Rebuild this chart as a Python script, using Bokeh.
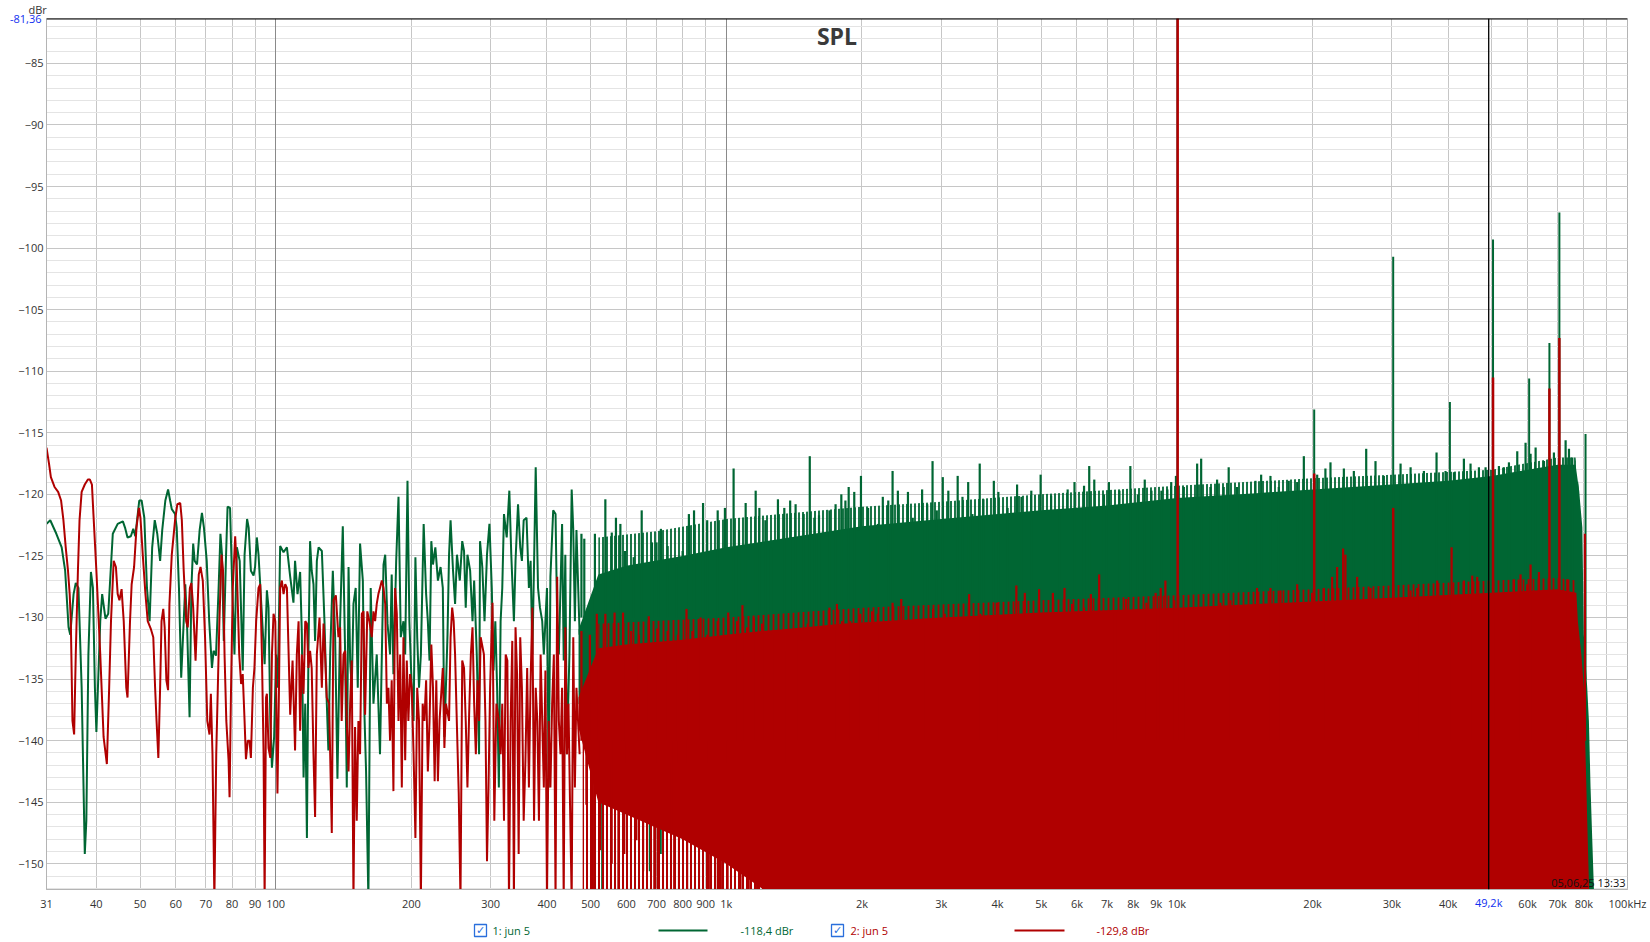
from bokeh.plotting import figure
from bokeh.models import Range1d, FixedTicker, Grid, Label, Span, Title, LinearAxis, LogAxis
from bokeh.layouts import column
from bokeh.core.properties import value
from bokeh.embed import file_html
from bokeh.resources import INLINE

# ---------------- data ----------------
# series 1 (green) - resolved trace 31 Hz .. 470 Hz
g_lo_f = [
    31.0, 31.6, 32.6, 33.5, 34.1, 34.7, 35.0, 35.6, 36.0, 36.5,
    37.1, 37.7, 38.0, 38.4, 38.9, 39.3, 39.7, 40.0, 40.8, 41.2,
    41.9, 42.5, 43.5, 44.6, 45.8, 46.3, 46.9, 47.7, 48.3, 48.8,
    49.8, 50.4, 51.1, 51.8, 52.5, 53.2, 53.9, 54.6, 55.4, 56.0,
    56.9, 57.7, 58.3, 58.8, 59.8, 60.3, 61.0, 61.7, 62.5, 63.0,
    63.6, 64.4, 65.0, 65.6, 66.1, 66.9, 67.8, 68.6, 69.3, 70.3,
    71.2, 72.2, 72.8, 73.7, 74.7, 75.4, 76.0, 76.7, 77.6, 78.2,
    79.2, 80.1, 81.0, 82.0, 83.2, 84.5, 85.3, 86.4, 87.1, 88.1,
    89.3, 90.0, 90.8, 91.6, 92.9, 94.5, 95.6, 96.4, 97.3, 98.1,
    99.2, 100.2, 101.1,
    102.3, 104.1, 105.9, 107.7, 109.5, 110.4, 111.8, 113.3, 114.3, 115.3,
    116.3, 117.3, 118.2, 119.2, 120.2, 121.3, 122.3, 123.4, 124.5, 126.6,
    128.3, 129.8, 130.9, 132.1, 133.9, 135.5, 137.1, 139.0, 140.9, 142.6,
    143.8, 145.1, 146.3, 147.5, 148.8, 150.5, 152.1, 153.9, 156.1, 157.4,
    158.7, 160.6, 162.5, 164.8, 167.6, 170.4, 173.5, 175.0, 177.1, 179.4,
    180.9, 182.5, 185.1, 187.3, 189.5, 192.1, 193.8, 196.1, 198.0, 200.4,
    202.3, 204.2, 206.1, 208.0, 210.0, 213.0, 215.7, 217.6, 219.5, 221.5,
    223.4, 226.1, 229.1, 232.2, 234.9, 236.8, 240.6, 242.5, 244.4, 247.5,
    250.1, 252.5, 256.2, 259.4, 261.8, 264.1, 266.4, 270.1, 273.4, 275.7,
    279.4, 282.7, 284.1, 287.4, 290.7, 294.4, 298.1, 301.7, 304.4, 307.2,
    310.0, 312.8, 315.6, 318.3, 321.1, 325.6, 330.0, 333.3, 337.8, 340.6,
    345.0, 348.9, 351.9, 355.1, 360.3, 364.7, 367.9, 371.2, 374.4, 377.6,
    382.1, 385.9, 390.4, 393.6, 400.0, 403.6, 407.1, 412.9, 417.9, 421.4,
    425.0, 432.1, 435.7, 439.3, 442.9, 448.6, 453.8, 457.5, 461.3, 465.0,
    472.6]
g_lo_db = [
    -122.4, -122.1, -123.2, -124.3, -126.2, -130.8, -131.4, -128.1, -127.2, -127.6,
    -135.7, -149.2, -146.5, -133.0, -126.3, -127.6, -135.7, -139.3, -130.3, -128.1,
    -130.1, -129.7, -123.2, -122.4, -122.2, -122.7, -123.5, -123.4, -122.8, -123.4,
    -120.5, -120.5, -121.9, -127.6, -130.3, -124.3, -122.1, -123.2, -125.4, -122.9,
    -120.5, -119.6, -120.5, -121.2, -121.6, -122.7, -127.6, -134.9, -130.3, -127.3,
    -130.8, -138.1, -127.6, -124.0, -125.4, -125.7, -122.9, -121.5, -122.7, -125.4,
    -130.3, -134.1, -132.7, -133.1, -127.6, -123.2, -124.9, -131.9, -124.9, -121.0,
    -121.1, -127.6, -133.0, -124.3, -125.4, -134.3, -124.9, -122.0, -122.7, -126.2,
    -126.6, -125.9, -123.5, -124.9, -128.9, -133.8, -127.8, -129.2, -138.4, -142.2,
    -139.7, -133.0, -135.7,
    -124.2, -124.7, -124.3, -126.7, -128.8, -125.4, -128.1, -126.3, -131.4, -143.0,
    -137.0, -147.9, -133.0, -123.8, -126.2, -127.3, -131.9, -125.4, -124.3, -124.6,
    -130.3, -136.8, -140.8, -133.0, -126.2, -131.6, -143.1, -130.3, -122.6, -133.0,
    -143.8, -125.9, -133.5, -135.7, -128.9, -127.6, -135.7, -124.0, -127.0, -137.9,
    -142.5, -153.0, -127.6, -137.0, -133.0, -141.1, -125.7, -124.9, -130.5, -133.0,
    -126.5, -134.6, -125.4, -120.2, -131.6, -130.3, -133.0, -118.9, -130.3, -135.7,
    -138.4, -125.1, -131.6, -135.7, -133.0, -122.4, -128.1, -130.3, -133.5, -123.8,
    -125.7, -124.3, -127.0, -125.9, -127.6, -139.7, -131.4, -124.9, -122.1, -126.2,
    -128.9, -124.9, -127.0, -123.8, -124.6, -129.2, -124.9, -126.2, -130.3, -127.0,
    -133.0, -141.1, -123.8, -125.9, -130.3, -124.9, -122.4, -127.6, -134.3, -130.3,
    -135.7, -143.8, -130.3, -127.6, -121.6, -123.5, -119.7, -124.9, -130.3, -125.4,
    -120.8, -124.3, -125.4, -122.1, -121.9, -127.6, -125.4, -133.0, -125.7, -117.8,
    -127.6, -129.2, -130.3, -133.0, -127.6, -143.8, -126.7, -121.3, -121.6, -130.3,
    -133.0, -122.4, -133.5, -124.9, -141.1, -133.0, -119.6, -122.9, -130.3, -122.9,
    -131.4]

# series 2 (red) - resolved trace 31 Hz .. 470 Hz
r_lo_f = [
    31.0, 31.4, 31.7, 32.3, 32.9, 33.4, 33.8, 34.2, 34.6, 34.9,
    35.1, 35.4, 35.7, 36.0, 36.4, 36.7, 37.1, 37.7, 38.3, 38.7,
    39.1, 39.4, 40.0, 40.8, 41.5, 42.2, 42.7, 43.1, 43.7, 44.2,
    44.6, 45.0, 45.5, 46.0, 46.6, 46.9, 47.5, 47.9, 48.5, 49.1,
    49.7, 50.1, 50.7, 51.4, 52.0, 52.8, 53.5, 54.0, 54.4, 54.9,
    55.4, 55.8, 56.3, 56.7, 57.2, 57.7, 58.1, 58.8, 59.8, 60.5,
    61.4, 61.9, 62.5, 63.3, 63.8, 64.5, 65.0, 65.6, 66.4, 66.9,
    67.5, 68.1, 68.9, 69.7, 70.5, 71.3, 71.8, 72.4, 73.1, 73.8,
    74.4, 75.0, 75.8, 76.4, 77.0, 77.7, 78.6, 79.0, 79.6, 80.3,
    81.3, 82.0, 83.0, 83.8, 84.5, 85.3, 85.9, 86.7, 87.5, 88.1,
    89.0, 89.7, 90.5, 91.6, 92.4, 93.2, 94.0, 94.5, 95.2, 95.6,
    96.4, 97.3, 98.1, 98.9, 99.8, 100.9, 101.7,
    102.3, 103.2, 104.1, 105.0, 105.9, 107.7, 109.0, 110.4, 111.4, 112.4,
    113.3, 114.3, 115.3, 116.3, 117.3, 118.2, 119.2, 120.2, 121.3, 122.3,
    123.4, 125.1, 126.6, 127.7, 128.7, 129.8, 131.4, 133.2, 134.4, 136.0,
    137.8, 139.0, 140.1, 141.4, 142.6, 143.8, 145.1, 146.3, 147.5, 148.8,
    150.0, 151.3, 152.6, 153.9, 155.3, 156.6, 157.9, 159.7, 161.4, 163.4,
    164.8, 166.2, 167.6, 169.0, 170.4, 172.0, 173.5, 175.0, 176.5, 177.9,
    179.4, 180.9, 182.5, 184.1, 185.7, 187.3, 188.9, 190.5, 192.1, 193.8,
    195.4, 197.0, 198.7, 200.4, 202.3, 204.2, 206.1, 208.0, 210.0, 211.9,
    213.8, 215.7, 217.6, 219.5, 221.5, 223.4, 225.3, 227.2, 229.1, 231.0,
    234.9, 236.8, 238.7, 242.5, 244.4, 246.4, 248.3, 250.1, 252.5, 254.8,
    257.1, 259.4, 261.8, 264.1, 266.4, 268.7, 271.1, 273.4, 275.7, 278.1,
    280.4, 282.7, 285.0, 289.8, 292.1, 294.4, 296.7, 299.1, 302.8, 305.6,
    308.9, 312.8, 315.6, 318.3, 321.1, 323.9, 326.7, 329.4, 332.2, 335.0,
    337.8, 340.6, 343.3, 346.1, 348.9, 351.9, 355.1, 358.3, 361.5, 364.7,
    367.9, 371.2, 374.4, 377.6, 380.8, 383.9, 387.2, 390.4, 393.6, 396.8,
    400.0, 403.6, 407.1, 410.7, 414.3, 417.9, 421.4, 425.0, 428.6, 432.1,
    435.7, 439.3, 442.9, 446.4, 450.0, 453.8, 457.5, 461.3, 465.0, 468.8,
    472.6]
r_lo_db = [
    -116.2, -117.5, -118.6, -119.4, -119.8, -120.5, -122.1, -124.3, -126.2, -128.1,
    -130.3, -138.4, -139.5, -133.0, -126.2, -122.1, -119.8, -119.2, -118.8, -118.8,
    -119.2, -121.6, -126.2, -133.0, -139.7, -141.9, -135.7, -130.3, -125.4, -125.9,
    -128.1, -128.6, -127.7, -130.3, -135.7, -136.5, -130.3, -127.3, -125.9, -122.7,
    -121.1, -121.9, -124.9, -128.1, -130.3, -130.9, -131.6, -135.7, -138.4, -141.4,
    -135.7, -130.3, -129.3, -130.8, -135.1, -135.9, -128.9, -124.9, -122.1, -120.8,
    -120.7, -122.1, -126.2, -130.3, -130.8, -127.6, -127.2, -129.2, -133.5, -130.3,
    -126.5, -125.9, -127.0, -131.6, -138.4, -139.5, -136.2, -141.1, -153.0, -141.1,
    -135.7, -130.3, -124.9, -126.2, -133.0, -138.4, -141.6, -144.6, -135.7, -127.6,
    -123.4, -126.2, -133.0, -135.4, -134.6, -138.4, -141.5, -140.0, -140.0, -141.4,
    -135.7, -134.1, -130.3, -127.6, -127.3, -133.0, -141.1, -153.0, -136.5, -136.2,
    -140.6, -141.4, -133.0, -129.7, -130.3, -144.3, -135.7,
    -127.6, -127.0, -128.1, -127.3, -127.6, -137.9, -133.5, -140.8, -133.0, -130.3,
    -139.2, -133.0, -136.2, -130.3, -130.5, -134.1, -132.7, -134.1, -141.1, -146.2,
    -133.0, -130.0, -135.7, -130.5, -133.0, -136.5, -137.0, -147.5, -128.6, -128.2,
    -131.6, -130.8, -138.4, -133.0, -132.7, -138.4, -142.5, -137.0, -133.5, -153.0,
    -138.9, -146.5, -138.4, -141.1, -129.7, -129.5, -137.9, -129.5, -130.3, -131.6,
    -129.5, -130.3, -128.9, -128.1, -127.6, -127.0, -127.6, -128.9, -137.0, -135.7,
    -140.0, -135.1, -144.1, -127.6, -129.7, -138.4, -133.0, -143.8, -131.6, -141.6,
    -133.5, -138.4, -134.6, -135.7, -141.1, -147.9, -135.7, -138.4, -153.0, -137.0,
    -138.4, -135.1, -142.5, -138.4, -132.2, -135.7, -143.3, -135.1, -143.3, -138.4,
    -134.1, -140.6, -137.0, -138.4, -131.6, -129.2, -130.3, -133.0, -138.9, -144.3,
    -153.0, -133.5, -134.1, -138.4, -143.8, -137.9, -133.0, -130.8, -137.0, -141.1,
    -135.1, -138.4, -131.6, -133.0, -138.4, -149.8, -143.8, -135.7, -128.8, -146.5,
    -137.0, -138.4, -141.1, -137.0, -146.5, -133.0, -133.5, -153.0, -138.4, -131.9,
    -153.0, -130.8, -134.6, -149.2, -131.6, -135.7, -146.5, -141.6, -134.1, -143.8,
    -135.1, -129.2, -146.5, -135.7, -138.4, -146.5, -133.0, -138.4, -143.8, -134.3,
    -153.0, -138.4, -143.8, -137.0, -133.0, -153.0, -126.7, -138.4, -141.1, -135.7,
    -153.0, -130.8, -141.1, -137.0, -145.2, -153.0, -131.6, -143.8, -135.7, -138.4,
    -141.1]

# dense region (>470 Hz): solid body of each trace (upper / lower edge of the filled mass)
gb_f = [470, 520, 600, 800, 1000, 1500, 2000, 3000, 5000, 7000, 10000, 15000,
        20000, 30000, 40000, 50000, 60000, 70000, 76700, 78100, 79400, 80000,
        81400, 82100, 82800, 83500, 84400]
gb_top = [-131.0, -126.5, -125.8, -125.0, -124.3, -123.3, -122.6, -122.0, -121.3,
          -120.9, -120.3, -119.9, -119.6, -119.2, -118.9, -118.5, -118.0, -117.6,
          -117.6, -119.7, -122.7, -131.4, -135.7, -138.4, -143.8, -147.9, -153.0]
gb_bot = [-137.0, -139.0, -139.0, -139.0, -140.0, -141.0, -143.0, -153.0, -153.0,
          -153.0, -153.0, -153.0, -153.0, -153.0, -153.0, -153.0, -153.0, -153.0,
          -153.0, -153.0, -153.0, -153.0, -153.0, -153.0, -153.0, -153.0, -153.0]
# thinning fringe of strokes above the green body
g_fr_f = [520, 700, 1000, 2000, 3000, 5000, 10000, 20000, 30000, 50000, 70000, 76700, 78100]
g_fr_top = [-123.5, -123.0, -122.0, -121.0, -120.6, -120.0, -119.3, -118.7, -118.4,
            -118.0, -117.0, -117.0, -119.7]

rb_f = [470, 520, 600, 800, 1000, 1200, 1400, 1600, 1800, 2000, 3000, 5000, 10000,
        20000, 30000, 50000, 70000, 77000, 77600, 79000, 80000, 80700, 81400, 82300]
rb_top = [-136.5, -132.5, -132.2, -131.8, -131.4, -131.1, -130.9, -130.7, -130.5,
          -130.4, -130.0, -129.6, -129.2, -128.7, -128.4, -128.0, -127.7, -128.0,
          -130.3, -133.0, -135.7, -141.1, -146.5, -153.0]
rb_bot = [-139.0, -145.0, -146.0, -148.0, -150.0, -152.0, -153.0, -153.0, -153.0,
          -153.0, -153.0, -153.0, -153.0, -153.0, -153.0, -153.0, -153.0, -153.0,
          -153.0, -153.0, -153.0, -153.0, -153.0, -153.0]
# thinning fringes of the red trace (above the body, and below it at 0.5-1.3 kHz)
r_fr_f = [520, 1000, 2000, 5000, 10000, 20000, 50000, 70000, 77000]
r_fr_top = [-130.5, -130.0, -129.2, -128.6, -128.2, -127.7, -127.0, -126.8, -127.0]
r_frb_f = [480, 1300]
r_frb_top = [-140.0, -140.0]

# peaks rising above the body
g_pk_f = [477, 484, 511, 539, 557, 569, 582, 596, 623, 649,
          684, 700, 716, 741, 775, 800, 826, 848, 888, 907,
          957, 993, 1038, 1067, 1104, 1162, 1184, 1221, 1257, 1302,
          1345, 1386, 1425, 1485, 1532, 1568, 1606, 1694, 1748, 1800,
          1838, 1869, 1923, 1967,
          1990, 2064, 2169, 2225, 2288, 2339, 2403, 2530, 2593, 2720,
          2792, 2869, 2932, 3023, 3110, 3262, 3343, 3442, 3517, 3651,
          3721, 3924, 4016, 4209, 4419, 4519, 4752, 4984, 5259, 5491,
          5722, 5926, 6222, 6389, 6556, 6889, 7065, 7455, 7883, 8191,
          8485, 8779, 9238, 9524, 9714, 9952,
          10360, 10900, 11090, 11320, 11870, 12280, 12700, 13030, 13600, 14320,
          14940, 15380, 16130, 16830, 17710, 18490, 19130, 20480, 21360, 21920,
          23470, 24700, 26310, 27590, 28790, 31360, 33010, 35330, 37690, 39460,
          41190, 43340, 44840, 46800, 48420, 51840, 53180, 54560, 56930, 59400,
          60940, 62530, 65260, 68660, 72890, 74150, 75420]
g_pk_db = [-123.2, -123.6, -123.2, -120.4, -123.1, -121.9, -122.4, -124.6, -125.1, -121.3,
           -123.9, -123.9, -122.8, -124.2, -125.7, -124.6, -121.6, -121.3, -120.7, -122.1,
           -121.3, -121.1, -117.9, -122.9, -120.7, -119.7, -121.1, -122.1, -124.3, -120.4,
           -121.1, -120.5, -120.8, -121.6, -116.9, -121.9, -121.7, -121.3, -120.8, -120.0,
           -120.5, -119.4, -119.8, -122.9,
           -118.5, -121.1, -122.4, -120.2, -120.5, -118.1, -119.7, -119.8, -121.9, -119.6,
           -120.8, -117.3, -121.3, -118.6, -119.7, -118.5, -120.2, -119.0, -121.6, -117.5,
           -120.4, -118.9, -119.8, -121.1, -119.2, -120.2, -119.7, -118.4, -120.1, -121.3,
           -119.6, -119.0, -119.3, -117.7, -118.8, -120.0, -119.0, -119.7, -117.7, -120.0,
           -118.8, -119.7, -119.7, -119.6, -119.0, -118.5,
           -119.4, -121.3, -117.5, -117.1, -119.4, -118.8, -119.4, -117.8, -119.4, -120.0,
           -118.9, -118.4, -118.5, -119.4, -118.9, -119.0, -116.9, -118.4, -117.9, -117.4,
           -117.9, -118.1, -116.3, -117.3, -118.5, -117.5, -117.8, -118.1, -116.6, -118.1,
           -118.2, -117.1, -117.5, -117.8, -117.8, -117.7, -117.8, -117.4, -116.5, -115.8,
           -116.7, -116.2, -117.3, -116.6, -115.6, -116.3, -117.0]

r_pk_f = [477, 498, 516, 539, 565, 590, 615, 640, 673, 703,
          741, 781, 816, 841, 877, 907, 957, 1010, 1057, 1086,
          1112, 1151, 1200, 1266, 1296, 1363, 1430, 1473, 1516, 1563,
          1625, 1694, 1760, 1806, 1884, 1950,
          1983, 2106, 2169, 2339, 2445, 2593, 2742, 2877, 3052, 3198,
          3459, 3662, 3983, 4403, 4597, 4945, 5306, 5630, 5852, 6222,
          6444, 6722, 7260, 7390, 7714, 8118, 8559, 8970, 9206, 9429,
          9873,
          10450, 11280, 12490, 13150, 13840, 15060, 16130, 16980, 18490, 19960,
          21190, 22110, 22680, 23380, 23660, 25120, 26900, 28790, 33010, 34140,
          35940, 37820, 40700, 43340, 45230, 46400, 48670, 53180, 55960, 57900,
          59910, 60940, 63610, 73510, 75420, 80460]
r_pk_db = [-131.1, -131.4, -129.7, -129.7, -129.6, -129.6, -131.1, -131.4, -129.9, -130.9,
           -131.1, -131.4, -129.3, -131.1, -130.0, -131.4, -130.3, -129.6, -130.3, -129.0,
           -130.8, -130.0, -130.5, -131.4, -131.4, -132.7, -131.4, -131.9, -130.5, -131.1,
           -130.9, -129.2, -128.9, -130.3, -130.3, -130.5,
           -129.7, -129.5, -129.7, -128.8, -128.5, -130.5, -130.3, -129.3, -129.7, -130.3,
           -128.1, -129.7, -128.8, -127.4, -128.0, -127.7, -128.0, -127.6, -128.9, -129.2,
           -128.1, -126.5, -129.7, -129.5, -128.5, -129.5, -128.8, -128.0, -127.6, -127.0,
           -128.6,
           -129.5, -130.0, -128.8, -128.6, -129.2, -127.6, -127.6, -127.8, -127.3, -128.0,
           -127.6, -126.7, -125.9, -124.4, -124.9, -126.7, -127.6, -128.9, -127.8, -127.6,
           -128.4, -127.0, -124.3, -127.0, -126.6, -126.7, -128.6, -128.1, -126.9, -126.5,
           -127.3, -125.7, -126.3, -126.9, -128.1, -123.2]

# troughs falling below the body (470 Hz .. 1.4 kHz)
g_dip_f = [530, 676, 716, 907, 990, 1102, 1290]
g_dip_db = [-153.0, -150.6, -149.2, -153.0, -149.2, -150.6, -153.0]
r_dip_f = [489, 506, 525, 557, 576, 594, 632, 654, 692, 704,
           754, 766, 785, 819, 870, 915, 957, 973, 1007, 1076,
           1122, 1170, 1274, 1363]
r_dip_db = [-145.2, -153.0, -148.9, -150.0, -153.0, -149.2, -148.1, -150.6, -153.0, -153.0,
            -150.0, -153.0, -153.0, -153.0, -153.0, -153.0, -153.0, -153.0, -153.0, -153.0,
            -153.0, -153.0, -153.0, -153.0]

# discrete tones
g_spk_f = [20170, 30200, 40350, 50300, 60500, 67100, 70600, 80700]
g_spk_db = [-113.1, -100.7, -112.5, -99.3, -110.6, -107.7, -97.1, -115.1]
r_spk_f = [10040, 20170, 30200, 50300, 67100, 70600]
r_spk_db = [-70.0, -118.3, -121.1, -110.5, -111.4, -107.3]

# axes / labels
cursor_x = 49200
cursor_y = -81.36
cursor_x_label = "49,2k"
cursor_y_label = "-81,36"
x_tick_vals = [31, 40, 50, 60, 70, 80, 90, 100, 200, 300, 400, 500, 600, 700, 800, 900,
               1000, 2000, 3000, 4000, 5000, 6000, 7000, 8000, 9000, 10000,
               20000, 30000, 40000, 60000, 70000, 80000, 100000]
x_tick_labels = ["31", "40", "50", "60", "70", "80", "90", "100", "200", "300", "400",
                 "500", "600", "700", "800", "900", "1k", "2k", "3k", "4k", "5k", "6k",
                 "7k", "8k", "9k", "10k", "20k", "30k", "40k", "60k", "70k",
                 "80k", "100kHz"]
x_grid_vals = [40, 50, 60, 70, 80, 90, 200, 300, 400, 500, 600, 700, 800, 900,
               2000, 3000, 4000, 5000, 6000, 7000, 8000, 9000,
               20000, 30000, 40000, 50000, 60000, 70000, 80000, 90000]
x_decade_vals = [100, 1000, 10000]
y_tick_vals = [-150, -145, -140, -135, -130, -125, -120, -115, -110, -105, -100,
               -95, -90, -85]
y_minor_vals = [-152, -151, -150, -149, -148, -147, -146, -145, -144, -143, -142, -141,
                -140, -139, -138, -137, -136, -135, -134, -133, -132, -131, -130, -129,
                -128, -127, -126, -125, -124, -123, -122, -121, -120, -119, -118, -117,
                -116, -115, -114, -113, -112, -111, -110, -109, -108, -107, -106, -105,
                -104, -103, -102, -101, -100, -99, -98, -97, -96, -95, -94, -93, -92,
                -91, -90, -89, -88, -87, -86, -85, -84, -83, -82]
series_names = ["1: jun 5", "2: jun 5"]
series_values = ["-118,4 dBr", "-129,8 dBr"]
title_text = "SPL"
y_unit = "dBr"
stamp = "05,06,25 13:33"

# ---------------- styling ----------------
GREEN = "#006633"
RED = "#b00000"
CHECK = "#2a6fdc"
CURSOR_BLUE = "#1030f0"
FONT = "Open Sans"

p = figure(width=1648, height=915, x_axis_type="log",
           x_range=Range1d(31, 100000), y_range=Range1d(-152.09, -81.355),
           output_backend="svg", toolbar_location=None, tools="", title=None,
           min_border_left=46, min_border_right=21, min_border_top=18,
           min_border_bottom=26, background_fill_color="white",
           border_fill_color="white")
p.outline_line_color = "#b4b4b4"

# grids
p.xgrid.ticker = FixedTicker(ticks=x_grid_vals)
p.xgrid.grid_line_color = "#c6c6c6"
p.add_layout(Grid(dimension=0, ticker=FixedTicker(ticks=x_decade_vals),
                  grid_line_color="#8a8a8a"))
p.ygrid.ticker = FixedTicker(ticks=y_tick_vals, minor_ticks=y_minor_vals)
p.ygrid.grid_line_color = "#c6c6c6"
p.ygrid.minor_grid_line_color = "#e4e4e4"


def style_axis(ax, color="#333333"):
    ax.major_tick_line_color = None
    ax.minor_tick_line_color = None
    ax.major_tick_out = 0
    ax.major_tick_in = 0
    ax.minor_tick_out = 0
    ax.minor_tick_in = 0
    ax.major_label_text_font = FONT
    ax.major_label_text_font_size = "11px"
    ax.major_label_text_color = color


# main axes
p.xaxis.ticker = FixedTicker(ticks=x_tick_vals)
p.xaxis.major_label_overrides = {v: s for v, s in zip(x_tick_vals, x_tick_labels)}
p.yaxis.ticker = FixedTicker(ticks=y_tick_vals)
for ax in (p.xaxis[0], p.yaxis[0]):
    style_axis(ax)
    ax.axis_line_color = "#b4b4b4"
p.xaxis.major_label_standoff = 6
p.yaxis.major_label_standoff = 3

# cursor read-outs drawn as extra axes pulled into the tick-label row
cx_axis = LogAxis(ticker=FixedTicker(ticks=[cursor_x]),
                  major_label_overrides={cursor_x: cursor_x_label},
                  axis_line_color=None, major_label_standoff=-19)
style_axis(cx_axis, CURSOR_BLUE)
p.add_layout(cx_axis, "below")
cy_axis = LinearAxis(ticker=FixedTicker(ticks=[cursor_y]),
                     major_label_overrides={cursor_y: cursor_y_label},
                     axis_line_color=None, major_label_standoff=-26)
style_axis(cy_axis, CURSOR_BLUE)
p.add_layout(cy_axis, "left")

# unit label above the y axis
p.add_layout(Title(text=y_unit, align="left", offset=-18, standoff=0,
                   vertical_align="top", text_font=FONT, text_font_size="11px",
                   text_font_style="normal", text_color="#333333"), "above")

# ---------------- series 1 (green) ----------------
p.line(g_lo_f, g_lo_db, line_color=GREEN, line_width=2)
p.varea(x=g_fr_f, y1=-135.0, y2=g_fr_top, fill_color=None, hatch_pattern="vertical_line",
        hatch_color=GREEN, hatch_scale=4, hatch_weight=1.8)
p.varea(x=gb_f, y1=gb_bot, y2=gb_top, fill_color=GREEN)
p.segment(x0=g_pk_f, y0=-130.0, x1=g_pk_f, y1=g_pk_db, line_color=GREEN, line_width=2.2)
p.segment(x0=g_dip_f, y0=-136.0, x1=g_dip_f, y1=g_dip_db, line_color=GREEN, line_width=1.8)
p.segment(x0=g_spk_f, y0=-135.0, x1=g_spk_f, y1=g_spk_db, line_color=GREEN, line_width=2)

# ---------------- series 2 (red) ----------------
p.line(r_lo_f, r_lo_db, line_color=RED, line_width=2)
p.varea(x=r_fr_f, y1=-140.0, y2=r_fr_top, fill_color=None, hatch_pattern="vertical_line",
        hatch_color=RED, hatch_scale=5, hatch_weight=1.8)
p.varea(x=r_frb_f, y1=-153.0, y2=r_frb_top, fill_color=None, hatch_pattern="vertical_line",
        hatch_color=RED, hatch_scale=4, hatch_weight=2.0)
p.varea(x=rb_f, y1=rb_bot, y2=rb_top, fill_color=RED)
p.segment(x0=r_pk_f, y0=-140.0, x1=r_pk_f, y1=r_pk_db, line_color=RED, line_width=2.2)
p.segment(x0=r_dip_f, y0=-140.0, x1=r_dip_f, y1=r_dip_db, line_color=RED, line_width=2)
p.segment(x0=r_spk_f, y0=-140.0, x1=r_spk_f, y1=r_spk_db, line_color=RED, line_width=2.5)

# ---------------- cursor ----------------
p.add_layout(Span(location=cursor_x, dimension="height", line_color="black", line_width=1.3))
p.add_layout(Span(location=cursor_y, dimension="width", line_color="black", line_width=2))

FW = 1581  # frame width in px
FH = 871   # frame height in px
p.add_layout(Label(x=FW / 2, y=FH - 17, x_units="screen", y_units="screen",
                   text=title_text, text_color="#3a3a3a", text_align="center",
                   text_baseline="middle", text_font=FONT, text_font_size="23px",
                   text_font_style="bold"))
p.add_layout(Label(x=FW - 2, y=7, x_units="screen", y_units="screen", text=stamp,
                   text_color="#111111", text_align="right", text_baseline="middle",
                   text_font=FONT, text_font_size="11px"))

# ---------------- legend strip (frame aligned with the plot frame) ----------------
lg = figure(width=1648, height=25, x_range=Range1d(46, 1627), y_range=Range1d(0, 25),
            output_backend="svg", toolbar_location=None, tools="", title=None,
            min_border=0, x_axis_location=None, y_axis_location=None,
            background_fill_color="white", border_fill_color="white")
lg.outline_line_color = None
lg.grid.visible = False
LY = 10
lg.scatter(x=[480, 837], y=[LY, LY], marker="square", size=12, fill_color="white",
           line_color=CHECK, line_width=1.3)
lg.text(x=[480, 837], y=[LY, LY], text=["\u2713", "\u2713"], text_color=CHECK,
        text_align="center", text_baseline="middle", text_font=value("DejaVu Sans"),
        text_font_size="11px", text_font_style="bold")
lg.segment(x0=[658, 1014], y0=[LY, LY], x1=[707, 1064], y1=[LY, LY],
           line_color=[GREEN, RED], line_width=2)
lg.text(x=[492, 740, 850, 1096], y=[LY] * 4,
        text=[series_names[0], series_values[0], series_names[1], series_values[1]],
        text_color=[GREEN, GREEN, RED, RED], text_align="left", text_baseline="middle",
        text_font=value(FONT), text_font_size="11px")

open("out.html", "w").write(file_html(column(p, lg, spacing=0), INLINE))
